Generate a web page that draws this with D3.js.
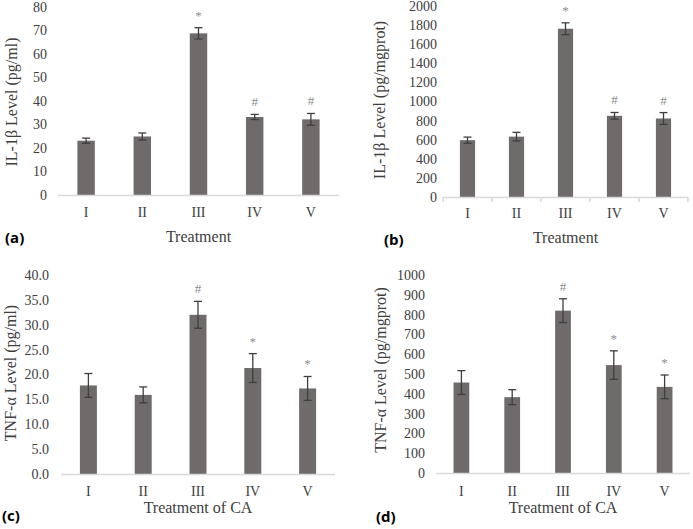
<!DOCTYPE html>
<html><head><meta charset="utf-8">
<script src="https://cdn.jsdelivr.net/npm/d3@7"></script>
<style>body{margin:0;background:#fff}svg{display:block}</style>
</head><body>
<svg id="chart" width="693" height="529"></svg>
<script>
const categories = ["I","II","III","IV","V"];

const il1bSerumValues = [23.1, 24.9, 68.8, 33.2, 32.2];
const il1bSerumErrors = [1.1, 1.5, 2.4, 1.1, 2.5];
const il1bSerumMarks = ["", "", "*", "#", "#"];

const il1bTissueValues = [595, 632, 1762, 850, 822];
const il1bTissueErrors = [32, 45, 62, 35, 62];
const il1bTissueMarks = ["", "", "*", "#", "#"];

const tnfSerumValues = [17.8, 15.9, 32.0, 21.3, 17.2];
const tnfSerumErrors = [2.4, 1.6, 2.7, 2.9, 2.4];
const tnfSerumMarks = ["", "", "#", "*", "*"];

const tnfTissueValues = [457, 383, 820, 545, 435];
const tnfTissueErrors = [60, 38, 60, 72, 60];
const tnfTissueMarks = ["", "", "#", "*", "*"];

const panels = [
  {letter:"(a)", values:il1bSerumValues, errors:il1bSerumErrors, marks:il1bSerumMarks,
   yMax:80, step:10, fmt:d3.format("d"), yLabel:"IL-1β Level (pg/ml)", xLabel:"Treatment",
   x0:58, x1:339, yBase:195, yTop:7, tickX:47, yLabX:17, yLabY:102, xTitleY:242, xTickY:217,
   letterX:5, letterY:243, ticks:false},
  {letter:"(b)", values:il1bTissueValues, errors:il1bTissueErrors, marks:il1bTissueMarks,
   yMax:2000, step:200, fmt:d3.format("d"), yLabel:"IL-1β Level (pg/mgprot)", xLabel:"Treatment",
   x0:443, x1:688, yBase:197, yTop:6, tickX:437, yLabX:385, yLabY:100, xTitleY:243, xTickY:218,
   letterX:384, letterY:245, ticks:true},
  {letter:"(c)", values:tnfSerumValues, errors:tnfSerumErrors, marks:tnfSerumMarks,
   yMax:40, step:5, fmt:d3.format(".1f"), yLabel:"TNF-α Level (pg/ml)", xLabel:"Treatment of CA",
   x0:61, x1:335, yBase:474, yTop:275, tickX:49, yLabX:16, yLabY:373, xTitleY:513, xTickY:496,
   letterX:2, letterY:521, ticks:false},
  {letter:"(d)", values:tnfTissueValues, errors:tnfTissueErrors, marks:tnfTissueMarks,
   yMax:1000, step:100, fmt:d3.format("d"), yLabel:"TNF-α Level (pg/mgprot)", xLabel:"Treatment of CA",
   x0:436, x1:690, yBase:473, yTop:275, tickX:425, yLabX:386, yLabY:370, xTitleY:513, xTickY:496,
   letterX:376, letterY:522, ticks:false}
];

const svg = d3.select("#chart");
const serif = "'Liberation Serif', 'Times New Roman', serif";
const barColor = "#6f6b6b";
const errColor = "#3f3f3f";
const axisColor = "#d9d9d9";
const textColor = "#404040";

panels.forEach(p => {
  const g = svg.append("g");
  const x = d3.scaleBand().domain(categories).range([p.x0, p.x1]).paddingInner(0.69).paddingOuter(0.345);
  const y = d3.scaleLinear().domain([0, p.yMax]).range([p.yBase, p.yTop]);

  const yt = d3.range(0, p.yMax + p.step/2, p.step);
  g.selectAll(".yt").data(yt).join("text")
    .attr("x", p.tickX).attr("y", d => y(d)).attr("dy", "0.35em")
    .attr("text-anchor", "end").attr("font-family", serif).attr("font-size", 14)
    .attr("fill", textColor).text(d => p.fmt(d));

  g.selectAll(".bar").data(categories).join("rect")
    .attr("x", d => x(d)).attr("width", x.bandwidth())
    .attr("y", (d,i) => y(p.values[i])).attr("height", (d,i) => y(0) - y(p.values[i]))
    .attr("fill", barColor);

  const stepW = x.step();
  g.append("line").attr("x1", p.x0).attr("x2", p.x1).attr("y1", p.yBase + 0.5).attr("y2", p.yBase + 0.5)
    .attr("stroke", axisColor).attr("stroke-width", 1.5);
  if (p.ticks) {
    d3.range(0, categories.length + 1).forEach(i => {
      g.append("line").attr("x1", p.x0 + i*stepW).attr("x2", p.x0 + i*stepW)
        .attr("y1", p.yBase).attr("y2", p.yBase + 5).attr("stroke", axisColor).attr("stroke-width", 1.5);
    });
  }

  const cap = 4;
  categories.forEach((c, i) => {
    const cx = x(c) + x.bandwidth()/2;
    const hi = y(p.values[i] + p.errors[i]), lo = y(p.values[i] - p.errors[i]);
    g.append("line").attr("x1", cx).attr("x2", cx).attr("y1", hi).attr("y2", lo)
      .attr("stroke", errColor).attr("stroke-width", 1.3);
    g.append("line").attr("x1", cx - cap).attr("x2", cx + cap).attr("y1", hi).attr("y2", hi)
      .attr("stroke", errColor).attr("stroke-width", 1.3);
    g.append("line").attr("x1", cx - cap).attr("x2", cx + cap).attr("y1", lo).attr("y2", lo)
      .attr("stroke", errColor).attr("stroke-width", 1.3);
    if (p.marks[i]) {
      g.append("text").attr("x", cx).attr("y", hi - 8)
        .attr("text-anchor", "middle").attr("font-family", serif).attr("font-size", 13)
        .attr("fill", "#8c8c8c").text(p.marks[i]);
    }
  });

  g.selectAll(".xt").data(categories).join("text")
    .attr("x", d => x(d) + x.bandwidth()/2).attr("y", p.xTickY)
    .attr("text-anchor", "middle").attr("font-family", serif).attr("font-size", 14)
    .attr("fill", textColor).text(d => d);

  g.append("text").attr("x", (p.x0 + p.x1)/2).attr("y", p.xTitleY)
    .attr("text-anchor", "middle").attr("font-family", serif).attr("font-size", 16)
    .attr("fill", textColor).text(p.xLabel);

  g.append("text").attr("transform", `translate(${p.yLabX},${p.yLabY}) rotate(-90)`)
    .attr("text-anchor", "middle").attr("font-family", serif).attr("font-size", 16)
    .attr("fill", textColor).text(p.yLabel);

  g.append("text").attr("x", p.letterX).attr("y", p.letterY)
    .attr("font-family", "'Open Sans', 'Liberation Sans', sans-serif").attr("font-weight", "bold")
    .attr("font-size", 15).attr("fill", "#000").text(p.letter);
});
</script>
</body></html>
